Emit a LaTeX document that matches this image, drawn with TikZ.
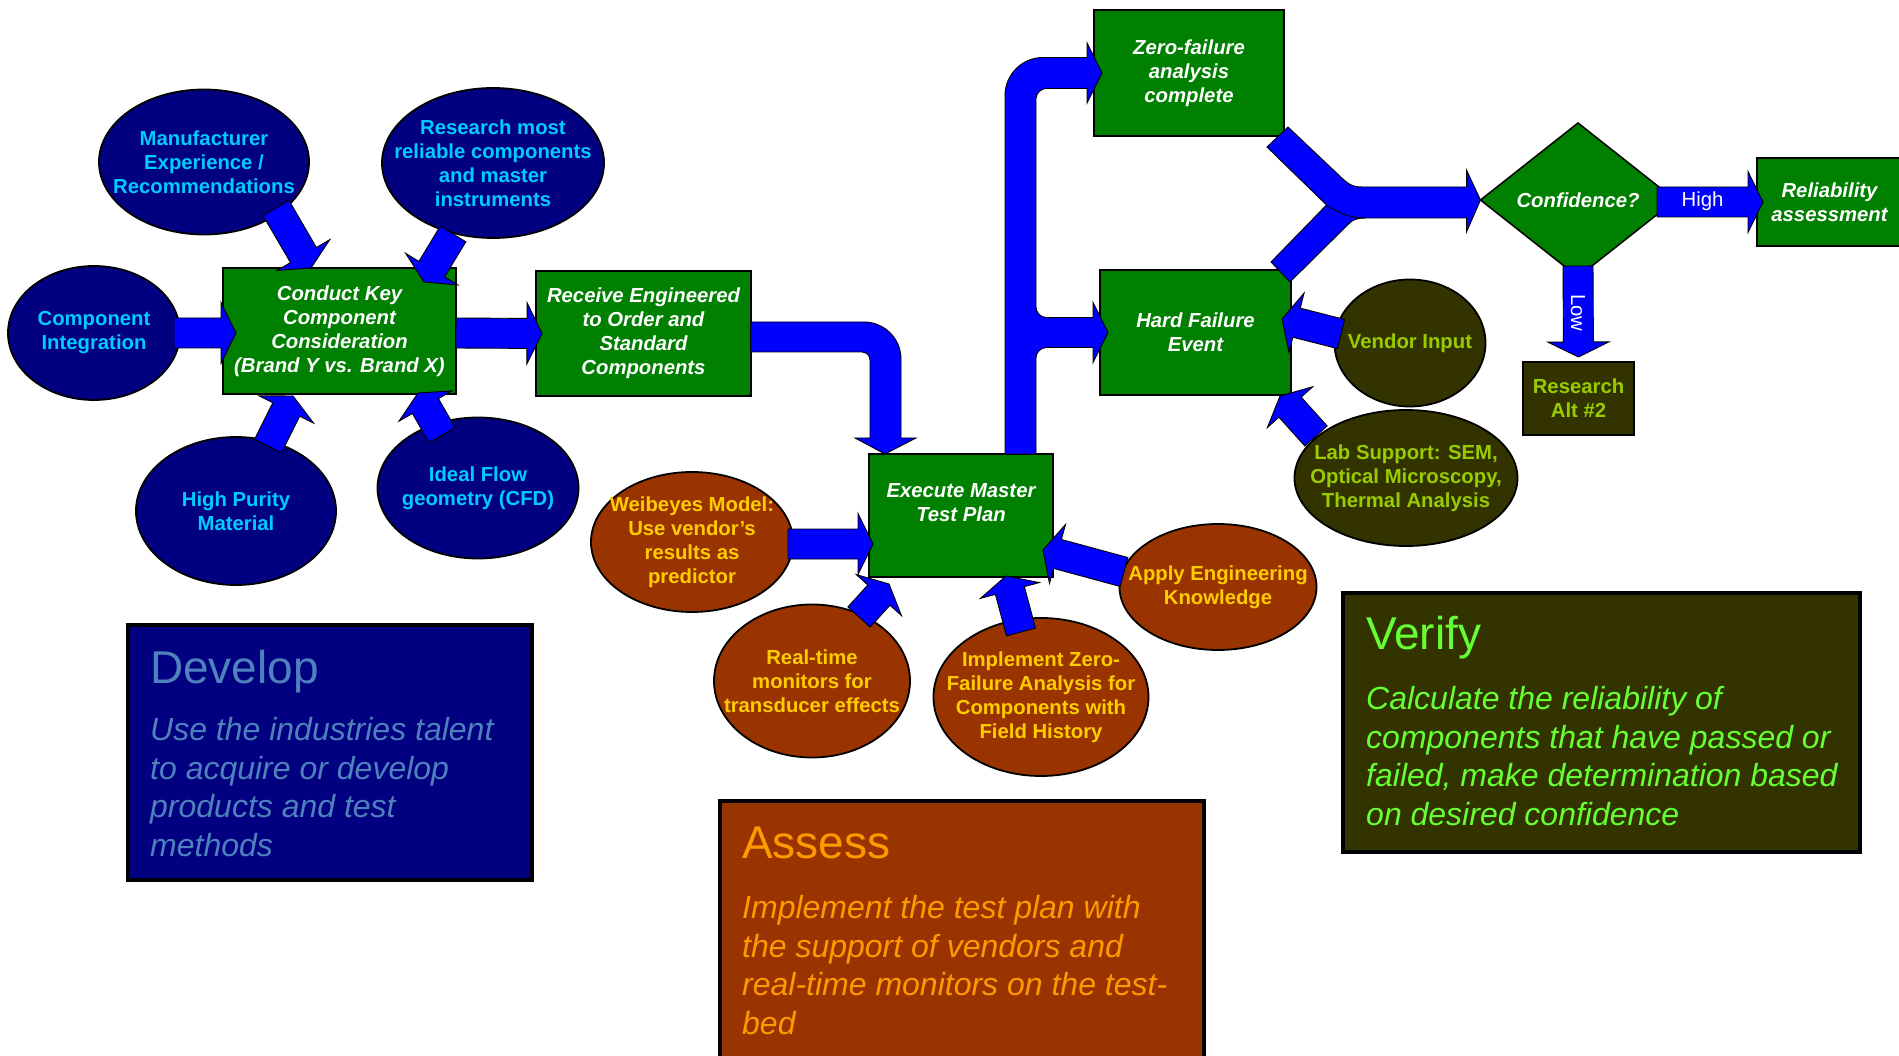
\documentclass[tikz,border=0pt]{standalone}
\usepackage{fontspec}
\setmainfont{Liberation Sans}
\usetikzlibrary{calc,shapes.geometric}
\definecolor{cnavy}{HTML}{000080}
\definecolor{cyantext}{HTML}{00CCFF}
\definecolor{dgreen}{HTML}{008000}
\definecolor{cbrown}{HTML}{993300}
\definecolor{colive}{HTML}{333300}
\definecolor{goldtext}{HTML}{FFCC00}
\definecolor{limetext}{HTML}{99CC00}
\definecolor{devtext}{HTML}{4F81BD}
\definecolor{asstext}{HTML}{FF9900}
\definecolor{vertext}{HTML}{66FF33}
\definecolor{arrowblue}{HTML}{0000FF}
\tikzset{
  ell/.style={ellipse, draw=black, line width=1.8pt, inner sep=0pt, outer sep=0pt},
  navyell/.style={ell, fill=cnavy},
  brownell/.style={ell, fill=cbrown},
  oliveell/.style={ell, fill=colive},
  gbox/.style={rectangle, draw=black, line width=2pt, fill=dgreen, inner sep=0pt, outer sep=0pt},
  obox/.style={rectangle, draw=black, line width=2pt, fill=colive, inner sep=0pt, outer sep=0pt},
  smallfont/.style={font=\fontsize{20.3}{24}\selectfont\bfseries},
  ntext/.style={smallfont, text=cyantext, align=center, inner sep=0pt},
  btext/.style={smallfont, text=goldtext, align=center, inner sep=0pt},
  otext/.style={smallfont, text=limetext, align=center, inner sep=0pt},
  gtext/.style={font=\fontsize{20.3}{24}\selectfont\bfseries\itshape, text=white, align=center, inner sep=0pt},
  arrtext/.style={font=\fontsize{20.3}{24}\selectfont, text=white, inner sep=0pt},
  barrow/.style={fill=arrowblue, draw=black, line width=0.9pt, line join=miter},
  phasebox/.style={rectangle, draw=black, line width=4pt, inner sep=0pt, outer sep=0pt, anchor=north west},
  ptitle/.style={anchor=base west, inner sep=0pt, font=\fontsize{46}{55}\selectfont},
  pbody/.style={anchor=base west, inner sep=0pt, align=left, font=\fontsize{32}{38.5}\selectfont\itshape},
}
\newcommand{\blockarrow}[2]{%
  \path[barrow] let \p1=(#1), \p2=(#2),
    \n1={atan2(\y2-\y1,\x2-\x1)}, \n2={veclen(\x2-\x1,\y2-\y1)-15} in
    ($(\p1)+({\n1+90}:15pt)$) --
    ($(\p1)+(\n1:{\n2*1pt})+({\n1+90}:15pt)$) --
    ($(\p1)+(\n1:{\n2*1pt})+({\n1+90}:30.5pt)$) --
    (\p2) --
    ($(\p1)+(\n1:{\n2*1pt})+({\n1-90}:30.5pt)$) --
    ($(\p1)+(\n1:{\n2*1pt})+({\n1-90}:15pt)$) --
    ($(\p1)+({\n1-90}:15pt)$) -- cycle;%
}
\begin{document}
\begin{tikzpicture}[x=1pt,y=-1pt]
\useasboundingbox (0,0) rectangle (1899,1056);
\fill[white] (0,0) rectangle (1899,1056);

% phase boxes (body text anchored at the baseline of its last line)
\node[phasebox, fill=cnavy, minimum width=404pt, minimum height=255pt] (dev) at (128,625) {};
\node[ptitle, text=devtext] (devt) at (150,683) {Develop};
\node[pbody, text=devtext] (devb) at (150,856) {Use the industries talent\\to acquire or develop\\products and test\\methods};

\node[phasebox, fill=cbrown, minimum width=484pt, minimum height=300pt] (ass) at (720,801) {};
\node[ptitle, text=asstext] (asst) at (742,858) {Assess};
\node[pbody, text=asstext] (assb) at (742,1034) {Implement the test plan with\\the support of vendors and\\real-time monitors on the test-\\bed};

\node[phasebox, fill=colive, minimum width=517pt, minimum height=259pt] (ver) at (1343,593) {};
\node[ptitle, text=vertext] (vert) at (1366,649) {Verify};
\node[pbody, text=vertext] (verb) at (1366,825) {Calculate the reliability of\\components that have passed or\\failed, make determination based\\on desired confidence};

% develop ellipses
\node[navyell, minimum width=172pt, minimum height=134pt] (ci) at (94,333) {};
\node[ntext] (cit) at (ci.center) {Component\\Integration};
\node[navyell, minimum width=210pt, minimum height=145pt] (mf) at (204,162) {};
\node[ntext] (mft) at (mf.center) {Manufacturer\\Experience /\\Recommendations};
\node[navyell, minimum width=222pt, minimum height=150pt] (rs) at (493,163) {};
\node[ntext] (rst) at (rs.center) {Research most\\reliable components\\and master\\instruments};
\node[navyell, minimum width=200pt, minimum height=148pt] (hp) at (236,511) {};
\node[ntext] (hpt) at (hp.center) {High Purity\\Material};
\node[navyell, minimum width=201pt, minimum height=141pt] (ifl) at (478,488) {};
\node[ntext] (iflt) at (ifl.center) {Ideal Flow\\geometry (CFD)};

% green boxes
\node[gbox, minimum width=233pt, minimum height=126pt] (ck) at (339.5,331) {};
\node[gtext] (ckt) at (ck.center) {Conduct Key\\Component\\Consideration\\(Brand Y vs. Brand X)};
\node[gbox, minimum width=215pt, minimum height=125pt] (rc) at (643.5,333.5) {};
\node[gtext] (rct) at (rc.center) {Receive Engineered\\to Order and\\Standard\\Components};
\node[gbox, minimum width=184pt, minimum height=123pt] (em) at (961,515.5) {};
\node[gtext] (emt) at ($(em.center)+(0,-13)$) {Execute Master\\Test Plan};
\node[gbox, minimum width=190pt, minimum height=126pt] (zf) at (1189,73) {};
\node[gtext] (zft) at (zf.center) {Zero-failure\\analysis\\complete};
\node[gbox, minimum width=191pt, minimum height=125pt] (hf) at (1195.5,332.5) {};
\node[gtext] (hft) at (hf.center) {Hard Failure\\Event};
\node[diamond, draw=black, line width=1.5pt, fill=dgreen, inner sep=0pt, outer sep=0pt, minimum width=195pt, minimum height=154pt] (cf) at (1578,200) {};
\node[gtext] (cft) at (cf.center) {Confidence?};
\node[gbox, minimum width=145pt, minimum height=88pt] (ra) at (1829.5,202) {};
\node[gtext] (rat) at ($(ra.center)+(0,0)$) {Reliability\\assessment};
\node[obox, minimum width=111pt, minimum height=73pt] (alt) at (1578.5,398.5) {};
\node[otext] (altt) at (alt.center) {Research\\Alt \#2};

% assess ellipses
\node[brownell, minimum width=202pt, minimum height=140pt] (wb) at (692,542) {};
\node[btext] (wbt) at (wb.center) {Weibeyes Model:\\Use vendor’s\\results as\\predictor};
\node[brownell, minimum width=196pt, minimum height=153pt] (rt) at (812,681) {};
\node[btext] (rtt) at (rt.center) {Real-time\\monitors for\\transducer effects};
\node[brownell, minimum width=215pt, minimum height=158pt] (iz) at (1041,697) {};
\node[btext] (izt) at (iz.center) {Implement Zero-\\Failure Analysis for\\Components with\\Field History};
\node[brownell, minimum width=197pt, minimum height=126pt] (ap) at (1218,587) {};
\node[btext] (apt) at (ap.center) {Apply Engineering\\Knowledge};

% verify ellipses
\node[oliveell, minimum width=151pt, minimum height=127pt] (vi) at (1410,343) {};
\node[otext] (vit) at (vi.center) {Vendor Input};
\node[oliveell, minimum width=223pt, minimum height=136pt] (lb) at (1406,478) {};
\node[otext] (lbt) at (lb.center) {Lab Support: SEM,\\Optical Microscopy,\\Thermal Analysis};

% straight block arrows
\blockarrow{$(ci.center)+(80,0)$}{$(ck.west)+(13,2)$}
\blockarrow{$(ck.east)+(0,2)$}{$(rc.west)+(6,0)$}
\blockarrow{$(mf.center)+(72,46)$}{$(ck.north west)+(88,0)$}
\blockarrow{$(rs.center)+(-40,71)$}{$(ck.north east)+(-32,14)$}
\blockarrow{$(hp.center)+(32,-65)$}{$(ck.south west)+(70,2)$}
\blockarrow{$(ifl.center)+(-36,-53)$}{$(ck.south east)+(-38,-1)$}
\blockarrow{$(wb.center)+(96,2)$}{$(em.west)+(4,28.5)$}
\blockarrow{$(rt.center)+(47,-64)$}{$(em.south west)+(20,7)$}
\blockarrow{$(iz.center)+(-20,-65)$}{$(em.south west)+(137,-1)$}
\blockarrow{$(ap.center)+(-94,-15)$}{$(em.south east)+(-10,-27)$}
\blockarrow{$(vi.center)+(-69,-9)$}{$(hf.east)+(-9,-13.5)$}
\blockarrow{$(lb.center)+(-90,-42)$}{$(hf.south east)+(-11,1)$}
\blockarrow{$(cf.east)+(-18.5,2)$}{$(ra.west)+(6,0)$}
\blockarrow{$(cf.south)+(0,-11)$}{$(alt.north)+(0,-5)$}

% receive -> execute (elbow)
\coordinate (c1s) at ($(rc.east)+(0,3.5)$);
\coordinate (c1t) at ($(em.north west)+(16,0)$);
\coordinate (c1c) at (c1t |- c1s);
\path[barrow] ($(c1s)+(0,-15)$) -- ($(c1c)+(-21,-15)$)
  .. controls ($(c1c)+(-0.6,-15)$) and ($(c1c)+(16,1.6)$) .. ($(c1c)+(16,22)$)
  -- ($(c1t)+(16,-16)$) -- ($(c1t)+(31,-16)$) -- (c1t) -- ($(c1t)+(-30,-16)$) -- ($(c1t)+(-15,-16)$)
  -- ($(c1c)+(-15,23)$) .. controls ($(c1c)+(-15,18.6)$) and ($(c1c)+(-18.6,15)$) .. ($(c1c)+(-23,15)$)
  -- ($(c1s)+(0,15)$) -- cycle;

% execute -> zero-failure and hard failure
\coordinate (c2b) at ($(em.north east)+(-32.5,0)$);
\coordinate (c2z) at ($(zf.west)+(8,0)$);
\coordinate (c2h) at ($(hf.west)+(8,0)$);
\coordinate (c2c) at (c2b |- c2z);
\coordinate (c2j) at (c2b |- c2h);
\path[barrow] ($(c2b)+(-15.5,0)$) -- ($(c2c)+(-15.5,22.5)$)
  .. controls ($(c2c)+(-15.5,1.5)$) and ($(c2c)+(1.5,-15.5)$) .. ($(c2c)+(22.5,-15.5)$)
  -- ($(c2z)+(-15,-15.5)$) -- ($(c2z)+(-15,-30)$) -- (c2z) -- ($(c2z)+(-15,30)$) -- ($(c2z)+(-15,15.5)$)
  -- ($(c2c)+(25.5,15.5)$) .. controls ($(c2c)+(21,15.5)$) and ($(c2c)+(15.5,20)$) .. ($(c2c)+(15.5,25.5)$)
  -- ($(c2j)+(15.5,-25)$) .. controls ($(c2j)+(15.5,-20.5)$) and ($(c2j)+(20,-15)$) .. ($(c2j)+(25.5,-15)$)
  -- ($(c2h)+(-15,-15)$) -- ($(c2h)+(-15,-30)$) -- (c2h) -- ($(c2h)+(-15,30)$) -- ($(c2h)+(-15,15)$)
  -- ($(c2j)+(25.5,15)$) .. controls ($(c2j)+(20,15)$) and ($(c2j)+(15.5,20.5)$) .. ($(c2j)+(15.5,25)$)
  -- ($(c2b)+(15.5,0)$) -- cycle;

% merge into confidence
\coordinate (c3z) at (zf.south east);
\coordinate (c3h) at (hf.north east);
\coordinate (c3t) at (cf.west);
\path[barrow] ($(c3z)+(-17,11)$) -- ($(c3z)+(4,-9)$) -- ($(c3t)+(-145,-28)$)
  .. controls ($(c3t)+(-133,-16.5)$) and ($(c3t)+(-130,-13)$) .. ($(c3t)+(-118,-13)$)
  -- ($(c3t)+(-14,-13)$) -- ($(c3t)+(-14,-30)$) -- (c3t) -- ($(c3t)+(-14,32)$) -- ($(c3t)+(-14,18)$)
  -- ($(c3t)+(-115,18)$) .. controls ($(c3t)+(-125,18)$) and ($(c3t)+(-128,20)$) .. ($(c3t)+(-133,25)$)
  -- ($(c3h)+(-1,12)$) -- ($(c3h)+(-20,-8)$) -- ($(c3t)+(-154,5)$) -- cycle;
\draw[black, line width=0.9pt] ($(c3t)+(-154,5)$) .. controls ($(c3t)+(-140,14)$) and ($(c3t)+(-130,18)$) .. ($(c3t)+(-115,18)$);

% arrow labels
\node[arrtext] (hi) at ($(cf.east)+(27,1)$) {High};
\node[arrtext, rotate=-90] (lo) at ($(cf.south)+(0,36)$) {Low};
\end{tikzpicture}
\end{document}
